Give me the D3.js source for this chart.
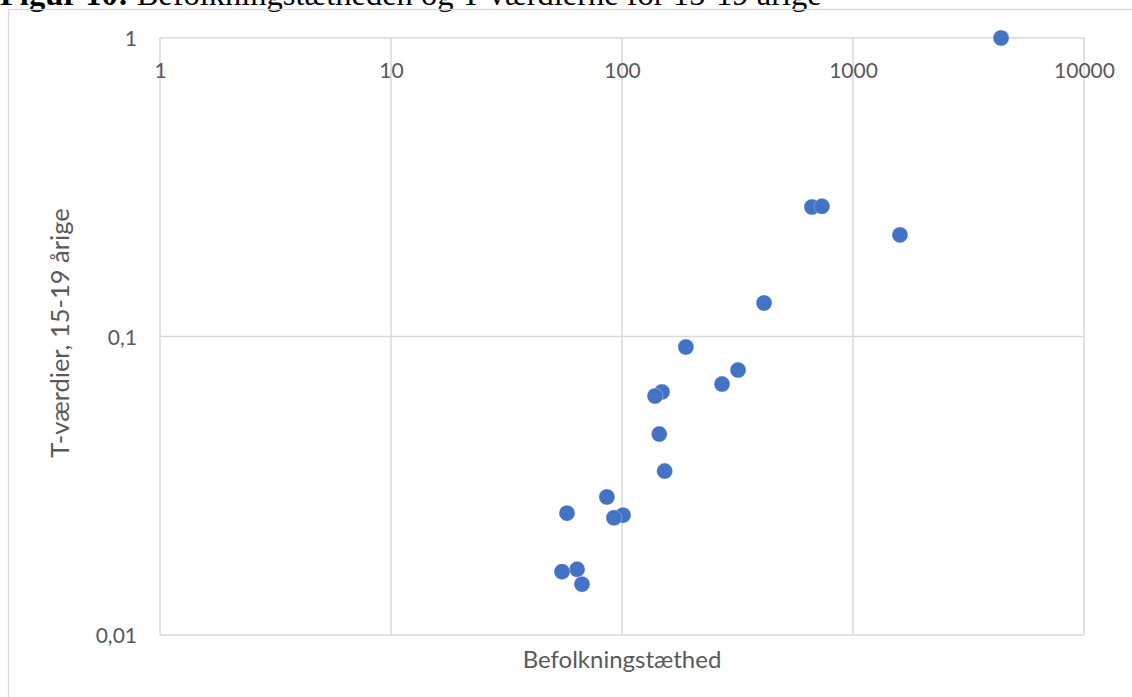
<!DOCTYPE html>
<html>
<head>
<meta charset="utf-8">
<script src="https://cdn.jsdelivr.net/npm/d3@7"></script>
<style>
  html, body { margin: 0; padding: 0; background: #fff; }
  svg { display: block; }
</style>
</head>
<body>
<svg id="chart" width="1132" height="697"></svg>
<script>
// Population density (inhabitants per km²) and T-values for 15-19 year olds
const density = [4375, 664, 734, 1597, 412, 189, 318, 271, 149, 139, 145, 153, 86, 57.8, 101, 92.3, 63.9, 55.0, 67.1];
const tValues = [1.0, 0.2716, 0.273, 0.219, 0.1295, 0.0922, 0.0772, 0.0693, 0.0652, 0.0632, 0.0471, 0.0354, 0.029, 0.0256, 0.0252, 0.0247, 0.0166, 0.0163, 0.0148];

const xTicks = [1, 10, 100, 1000, 10000];
const xTickLabels = ["1", "10", "100", "1000", "10000"];
const yTicks = [0.01, 0.1, 1];
const yTickLabels = ["0,01", "0,1", "1"];

const titleBold = "Figur 10:";
const titleRest = " Befolkningstætheden og T-værdierne for 15-19 årige";
const xTitle = "Befolkningstæthed";
const yTitle = "T-værdier, 15-19 årige";

const svg = d3.select("#chart");
const W = 1132, H = 697;
const plot = { left: 160, right: 1084, top: 38, bottom: 635 };

const x = d3.scaleLog().domain([1, 10000]).range([plot.left, plot.right]);
const y = d3.scaleLog().domain([0.01, 1]).range([plot.bottom, plot.top]);

const font = "Lato, 'Open Sans', sans-serif";
const grid = "#d9d9d9";
const textColor = "#595959";

// Document caption above the chart (runs off the top of the page)
const title = svg.append("text")
  .attr("x", 0).attr("y", 5)
  .attr("font-family", "'Liberation Serif', 'Times New Roman', serif")
  .attr("font-size", 32.5)
  .attr("fill", "#000");
title.append("tspan").attr("font-weight", "bold").text(titleBold);
title.append("tspan").text(titleRest);

// Chart frame
svg.append("rect")
  .attr("x", 8.5).attr("y", 9.5)
  .attr("width", W + 10).attr("height", H + 10)
  .attr("fill", "none").attr("stroke", grid).attr("stroke-width", 1.3);

// Gridlines
const g = svg.append("g");
g.selectAll(".vg").data(xTicks).join("line")
  .attr("x1", d => x(d)).attr("x2", d => x(d))
  .attr("y1", plot.top).attr("y2", plot.bottom)
  .attr("stroke", grid).attr("stroke-width", 1.5);
g.selectAll(".hg").data(yTicks).join("line")
  .attr("x1", plot.left).attr("x2", plot.right)
  .attr("y1", d => y(d)).attr("y2", d => y(d))
  .attr("stroke", grid).attr("stroke-width", 1.5);

// X tick labels (drawn near the top of the plot, axis crosses at y = 1)
const xAxis = d3.axisTop(x).tickValues(xTicks)
  .tickFormat((d, i) => xTickLabels[i]).tickSize(0).tickPadding(0);
const xa = svg.append("g").attr("transform", `translate(0, ${plot.top + 32})`).call(xAxis);
xa.select(".domain").remove();
xa.selectAll("text")
  .attr("font-family", font).attr("font-size", 21).attr("fill", textColor)
  .attr("dy", "0.36em").attr("y", 0);

// Y tick labels
const yAxis = d3.axisLeft(y).tickValues(yTicks)
  .tickFormat((d, i) => yTickLabels[i]).tickSize(0).tickPadding(0);
const ya = svg.append("g").attr("transform", `translate(${plot.left - 23}, 0)`).call(yAxis);
ya.select(".domain").remove();
ya.selectAll("text")
  .attr("font-family", font).attr("font-size", 21).attr("fill", textColor)
  .attr("dy", "0.36em");

// Axis titles
svg.append("text")
  .attr("x", 622).attr("y", 659).attr("dy", "0.36em")
  .attr("text-anchor", "middle")
  .attr("font-family", font).attr("font-size", 24).attr("fill", textColor)
  .text(xTitle);
svg.append("text")
  .attr("transform", "translate(60, 333) rotate(-90)")
  .attr("dy", "0.36em")
  .attr("text-anchor", "middle")
  .attr("font-family", font).attr("font-size", 25.5).attr("fill", textColor)
  .text(yTitle);

// Points
svg.append("g").selectAll("circle").data(density.map((d, i) => [d, tValues[i]]))
  .join("circle")
  .attr("cx", d => x(d[0])).attr("cy", d => y(d[1]))
  .attr("r", 8)
  .attr("fill", "#4472c4")
  .attr("stroke", "#ffffff").attr("stroke-width", 0.5).attr("stroke-opacity", 0.6);
</script>
</body>
</html>
